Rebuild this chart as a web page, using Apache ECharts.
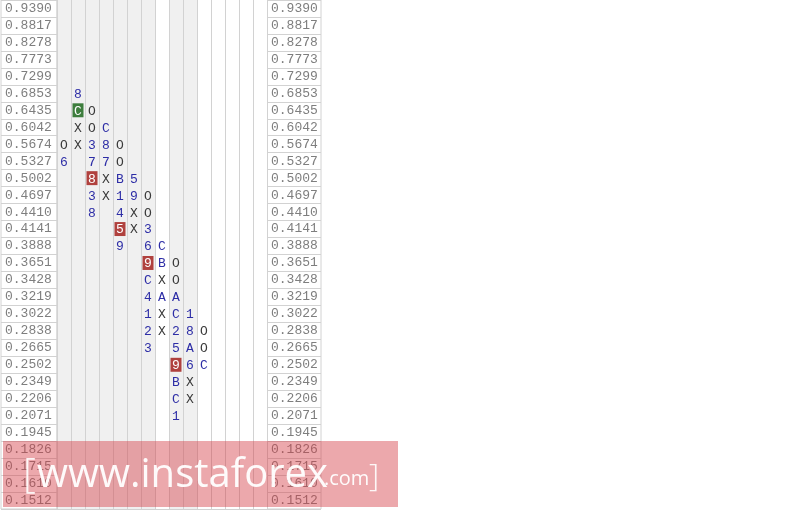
<!DOCTYPE html>
<html><head><meta charset="utf-8">
<script src="https://cdn.jsdelivr.net/npm/echarts@6/dist/echarts.min.js"></script>
<style>html,body{margin:0;padding:0;background:#fff}#c{width:802px;height:510px}</style>
</head><body><div id="c"></div><script>
const priceLevels = ['0.9390','0.8817','0.8278','0.7773','0.7299','0.6853','0.6435','0.6042','0.5674','0.5327','0.5002','0.4697','0.4410','0.4141','0.3888','0.3651','0.3428','0.3219','0.3022','0.2838','0.2665','0.2502','0.2349','0.2206','0.2071','0.1945','0.1826','0.1715','0.1610','0.1512'];
const columnIds = ['0','1','2','3','4','5','6','7','8','9','10','11','12','13','14'];
const shadedColumns = [1,1,1,1,1,1,1,0,1,1,0,0,0,0,0];
const columnTop = ['0.5674','0.6853','0.6435','0.6042','0.5674','0.5002','0.4697','0.3888','0.3651','0.3022','0.2838'];
const columnMarks = ['O6','8CXX','OO37838','C87XX','OOB1459','59XX','OO369C4123','CBXAXX','OOAC259BC1','18A6XX','OOC'];
const highlights = [[1,'0.6435','green'],[2,'0.5002','red'],[4,'0.4141','red'],[6,'0.3651','red'],[8,'0.2502','red']];

const cells = [];
columnMarks.forEach((marks, c) => {
  const top = priceLevels.indexOf(columnTop[c]);
  marks.split('').forEach((ch, k) => {
    const price = priceLevels[top + k];
    const h = highlights.find(x => x[0] === c && x[1] === price);
    cells.push({ c, r: top + k, ch, hl: h ? h[2] : null });
  });
});

const lineColor = '#d2d2d2';
const labelFont = { fontFamily: 'Liberation Mono', fontSize: 13, color: '#7e7e7e' };
const gridBase = { top: -1, height: 510, show: true, borderColor: lineColor, borderWidth: 1, backgroundColor: 'transparent' };

function labelAxes(gi) {
  return {
    x: { type: 'category', gridIndex: gi, data: [''], axisLine: { show: false }, axisTick: { show: false }, axisLabel: { show: false }, splitLine: { show: false } },
    y: { type: 'category', gridIndex: gi, data: priceLevels, inverse: true, axisLine: { show: false }, axisTick: { show: false },
         axisLabel: Object.assign({ inside: true, margin: 4, interval: 0 }, labelFont),
         splitLine: { show: true, interval: 0, lineStyle: { color: lineColor, width: 1 } } }
  };
}
const L = labelAxes(0), R = labelAxes(2);

const chart = echarts.init(document.getElementById('c'), null, { renderer: 'canvas' });
chart.setOption({
  animation: false,
  backgroundColor: '#fff',
  grid: [
    Object.assign({ left: 1, width: 56 }, gridBase),
    Object.assign({ left: 57, width: 210 }, gridBase),
    Object.assign({ left: 267, width: 54 }, gridBase)
  ],
  xAxis: [
    L.x,
    { type: 'category', gridIndex: 1, data: columnIds, axisLine: { show: false }, axisTick: { show: false }, axisLabel: { show: false, interval: 0 },
      splitLine: { show: true, interval: 0, lineStyle: { color: lineColor, width: 1 } },
      splitArea: { show: true, interval: 0, areaStyle: { color: shadedColumns.map(s => s ? '#f0f0f0' : '#ffffff') } } },
    R.x
  ],
  yAxis: [
    L.y,
    { type: 'category', gridIndex: 1, data: priceLevels, inverse: true, axisLine: { show: false }, axisTick: { show: false }, axisLabel: { show: false, interval: 0 },
      splitLine: { show: true, interval: 0, lineStyle: { color: lineColor, width: 1 } } },
    R.y
  ],
  series: [{
    type: 'custom',
    xAxisIndex: 1, yAxisIndex: 1,
    data: cells.map(d => [d.c, d.r]),
    renderItem(params, api) {
      const d = cells[params.dataIndex];
      const p = api.coord([api.value(0), api.value(1)]);
      const s = api.size([1, 1]);
      const children = [];
      let fill = /[XO]/.test(d.ch) ? '#3a3a3a' : '#2d2da6';
      if (d.hl) {
        children.push({ type: 'rect', shape: { x: p[0] - s[0] / 2 + 1.5, y: p[1] - s[1] / 2 + 1.5, width: s[0] - 3, height: s[1] - 3 },
          style: { fill: d.hl === 'red' ? '#b0413e' : '#3d7d3d' } });
        fill = '#ffffff';
      }
      children.push({ type: 'text', style: { text: d.ch, x: p[0], y: p[1] + 1, align: 'center', verticalAlign: 'middle',
        font: '13px "Liberation Mono"', fill } });
      return { type: 'group', children };
    }
  }],
  graphic: [
    { type: 'rect', z: 100, shape: { x: 3, y: 441, width: 395, height: 66 }, style: { fill: 'rgba(212,62,72,0.45)' } },
    { type: 'text', z: 101, style: { text: '[', x: 23, y: 476, verticalAlign: 'middle', font: '300 40px "Open Sans"', fill: 'rgba(255,255,255,0.9)' } },
    { type: 'text', z: 101, style: { text: 'www.instaforex', x: 37, y: 476, verticalAlign: 'middle', font: '40px "Open Sans"', fill: 'rgba(255,255,255,0.95)' } },
    { type: 'text', z: 101, style: { text: '.com', x: 324, y: 479, verticalAlign: 'middle', font: '20px "Open Sans"', fill: 'rgba(255,255,255,0.95)' } },
    { type: 'text', z: 101, style: { text: ']', x: 369, y: 477, verticalAlign: 'middle', font: '300 32px "Open Sans"', fill: 'rgba(255,255,255,0.9)' } }
  ]
});
</script></body></html>
